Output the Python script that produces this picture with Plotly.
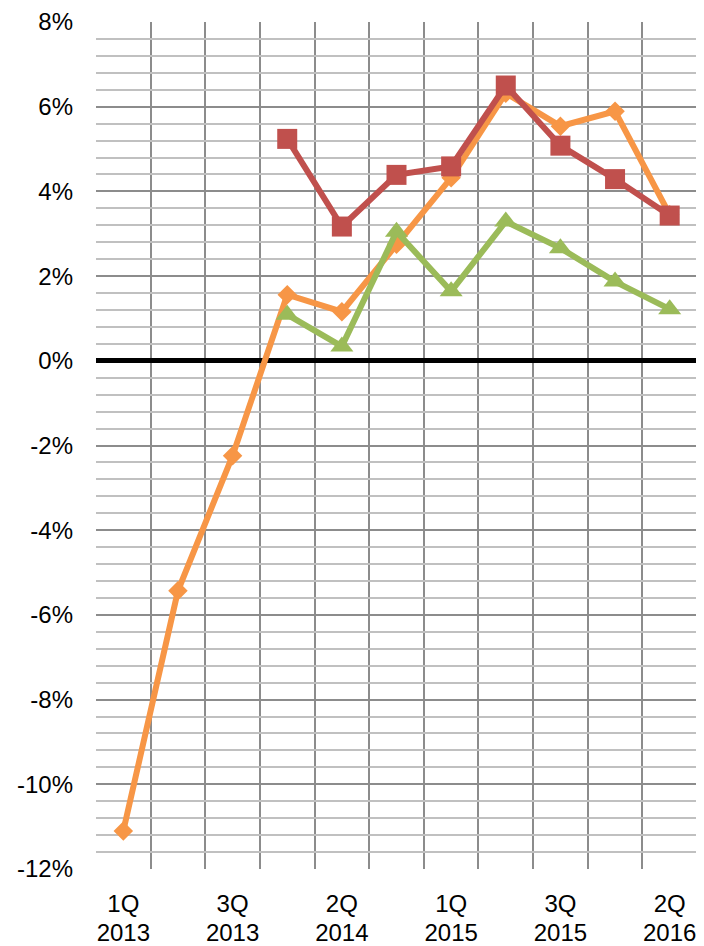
import plotly.graph_objects as go

quarters = ["1Q 2013", "2Q 2013", "3Q 2013", "4Q 2013", "2Q 2014", "3Q 2014",
            "1Q 2015", "2Q 2015", "3Q 2015", "4Q 2015", "2Q 2016"]
label_every = 2

orange = [-11.10, -5.43, -2.24, 1.56, 1.16, 2.75, 4.32, 6.32, 5.54, 5.89, 3.45]
red = [None, None, None, 5.24, 3.17, 4.39, 4.59, 6.50, 5.08, 4.29, 3.43]
green = [None, None, None, 1.09, 0.34, 3.05, 1.64, 3.29, 2.66, 1.87, 1.22]

y_ticks = list(range(-12, 9, 2))

x = list(range(len(quarters)))
tickvals = x[::label_every]
q_text = [quarters[i].split(" ")[0] for i in tickvals]
yr_text = [quarters[i].split(" ")[1] for i in tickvals]

FONT = "Liberation Sans, Arial"
FS = 24

fig = go.Figure()
fig.add_trace(go.Scatter(x=x, y=orange, mode="lines+markers", name="orange",
                         line=dict(color="#F79646", width=6),
                         marker=dict(symbol="diamond", size=15, color="#F79646")))
fig.add_trace(go.Scatter(x=x, y=red, mode="lines+markers", name="red",
                         line=dict(color="#C0504D", width=6),
                         marker=dict(symbol="square", size=20, color="#C0504D")))
# green series drawn on the overlaying x-axis (same range) so that axis carries the year labels
fig.add_trace(go.Scatter(x=x, y=green, mode="lines+markers", name="green",
                         xaxis="x2", yaxis="y",
                         line=dict(color="#9BBB59", width=6),
                         marker=dict(symbol="triangle-up", size=20, color="#9BBB59")))

xr = [-0.5, len(quarters) - 0.5]

fig.update_layout(
    width=696, height=938,
    margin=dict(l=88, r=7, t=14, b=77),
    paper_bgcolor="white", plot_bgcolor="white",
    showlegend=False,
    font=dict(family=FONT, size=FS, color="black"),
    xaxis=dict(
        range=xr, automargin=False,
        tickvals=tickvals, ticktext=q_text,
        showgrid=False, zeroline=False, ticks="",
        ticklabelstandoff=18,
        minor=dict(tick0=-0.5, dtick=1, showgrid=True, gridcolor="#8c8c8c", gridwidth=1.5),
        showline=False,
    ),
    xaxis2=dict(
        range=xr, overlaying="x", anchor="y", side="bottom", automargin=False,
        tickvals=tickvals, ticktext=yr_text,
        showgrid=False, zeroline=False, ticks="",
        ticklabelstandoff=47, showline=False,
    ),
    yaxis=dict(
        range=[-12, 8], automargin=False,
        tickvals=y_ticks, ticktext=[f"{v}%" for v in y_ticks],
        showgrid=True, gridcolor="#8c8c8c", gridwidth=1.5,
        minor=dict(dtick=0.4, tick0=0, showgrid=True, gridcolor="#c0c0c0", gridwidth=1.5),
        zeroline=True, zerolinecolor="black", zerolinewidth=4.5,
        ticks="", ticklabelstandoff=22,
        showline=False,
    ),
)

fig.write_html("out.html")
